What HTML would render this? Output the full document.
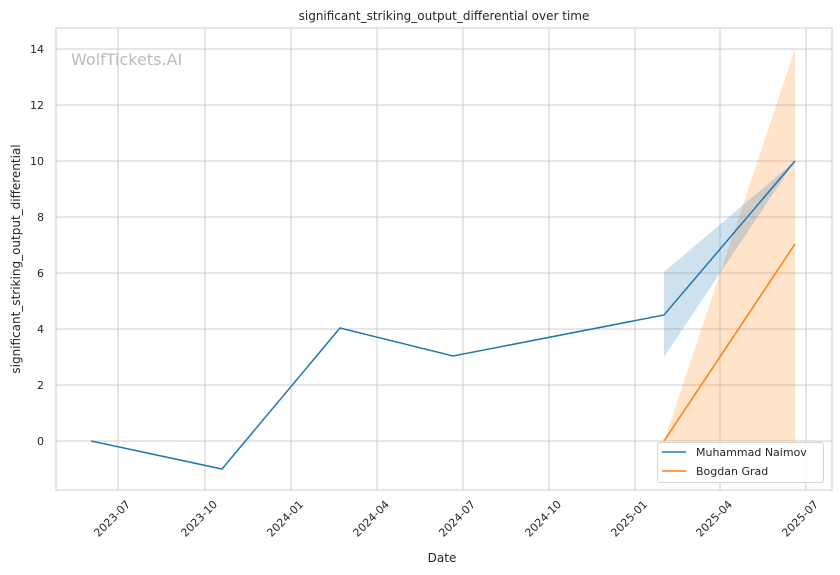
<!DOCTYPE html>
<html><head><meta charset="utf-8"><style>body{margin:0;background:#fff}svg{display:block}text{font-family:"DejaVu Sans","Liberation Sans",sans-serif;fill:#262626}</style></head><body>
<svg width="840" height="575" xmlns="http://www.w3.org/2000/svg">
<rect width="840" height="575" fill="#fff"/>
<g stroke="#cccccc" stroke-width="1">
<line x1="56" x2="832" y1="49" y2="49"/><line x1="56" x2="832" y1="105" y2="105"/><line x1="56" x2="832" y1="161" y2="161"/><line x1="56" x2="832" y1="217" y2="217"/><line x1="56" x2="832" y1="273" y2="273"/><line x1="56" x2="832" y1="329" y2="329"/><line x1="56" x2="832" y1="385" y2="385"/><line x1="56" x2="832" y1="441" y2="441"/>
<line y1="28" y2="490" x1="118" x2="118"/><line y1="28" y2="490" x1="205" x2="205"/><line y1="28" y2="490" x1="291" x2="291"/><line y1="28" y2="490" x1="377" x2="377"/><line y1="28" y2="490" x1="463" x2="463"/><line y1="28" y2="490" x1="549" x2="549"/><line y1="28" y2="490" x1="635" x2="635"/><line y1="28" y2="490" x1="720" x2="720"/><line y1="28" y2="490" x1="806" x2="806"/>
</g>
<rect x="56" y="28" width="776" height="462" fill="none" stroke="#cccccc"/>
<text x="71" y="65" font-size="16" style="fill:#bbbbbb">WolfTickets.AI</text>
<polygon points="664,441 795,49 795,441" fill="#ff7f0e" fill-opacity="0.22"/>
<polygon points="664,272 795,161 664,357" fill="#1f77b4" fill-opacity="0.22"/>
<polyline points="91,441 222,469 340,328 453,356 664,315 795,161" fill="none" stroke="#1f77b4" stroke-width="1.5"/>
<polyline points="664,441 795,244" fill="none" stroke="#ff7f0e" stroke-width="1.5"/>
<g font-size="11" text-anchor="end">
<text x="44" y="53">14</text><text x="44" y="109">12</text><text x="44" y="165">10</text><text x="44" y="221">8</text><text x="44" y="277">6</text><text x="44" y="333">4</text><text x="44" y="389">2</text><text x="44" y="445">0</text>
</g>
<g font-size="11" text-anchor="end">
<text transform="translate(131,505) rotate(-45)">2023-07</text>
<text transform="translate(218,505) rotate(-45)">2023-10</text>
<text transform="translate(304,505) rotate(-45)">2024-01</text>
<text transform="translate(390,505) rotate(-45)">2024-04</text>
<text transform="translate(476,505) rotate(-45)">2024-07</text>
<text transform="translate(562,505) rotate(-45)">2024-10</text>
<text transform="translate(648,505) rotate(-45)">2025-01</text>
<text transform="translate(733,505) rotate(-45)">2025-04</text>
<text transform="translate(819,505) rotate(-45)">2025-07</text>
</g>
<text x="442" y="562" font-size="12" text-anchor="middle">Date</text>
<text transform="translate(20,259) rotate(-90)" font-size="12" text-anchor="middle">significant_striking_output_differential</text>
<text x="444" y="20" font-size="12" text-anchor="middle">significant_striking_output_differential over time</text>
<rect x="657.5" y="442.5" width="166" height="40" rx="2" fill="#fff" fill-opacity="0.85" stroke="#d6d6d6"/>
<line x1="662" x2="686" y1="452" y2="452" stroke="#1f77b4" stroke-width="1.5"/>
<line x1="662" x2="686" y1="471" y2="471" stroke="#ff7f0e" stroke-width="1.5"/>
<text x="696" y="456" font-size="11">Muhammad Naimov</text>
<text x="696" y="475" font-size="11">Bogdan Grad</text>
</svg>
</body></html>
